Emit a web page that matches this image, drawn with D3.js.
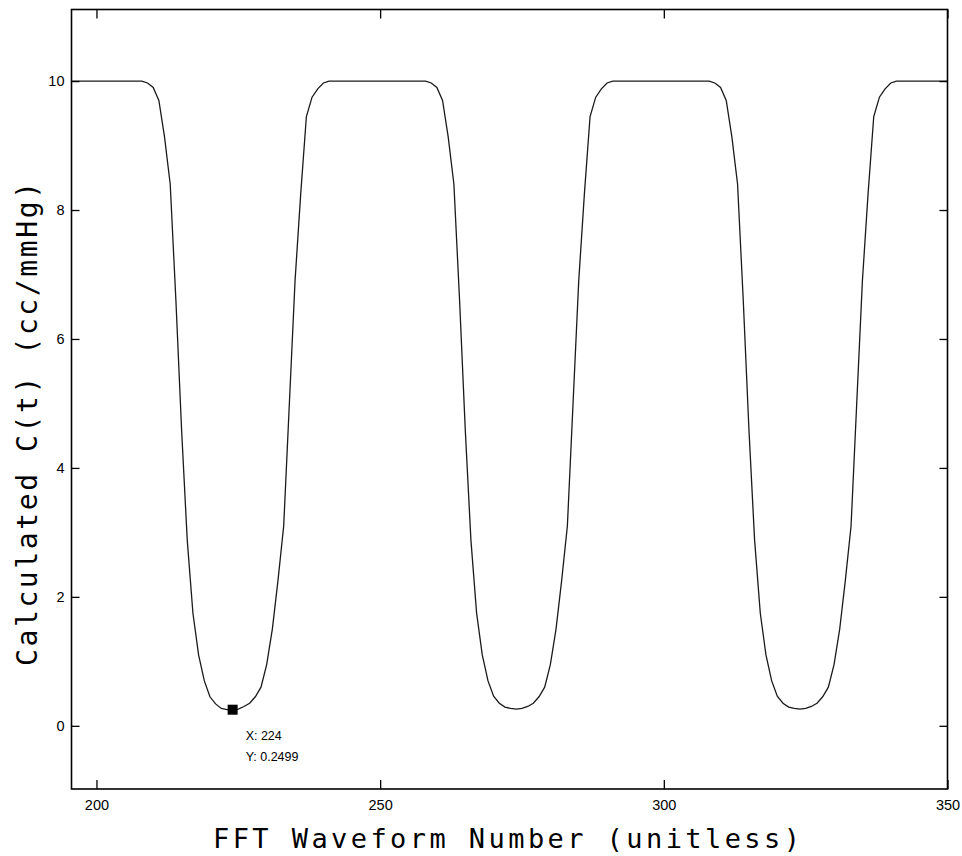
<!DOCTYPE html>
<html>
<head>
<meta charset="utf-8">
<script src="https://cdn.jsdelivr.net/npm/d3@7"></script>
<style>
  html, body { margin: 0; padding: 0; background: #fff; }
  svg { display: block; }
</style>
</head>
<body>
<svg id="chart" width="962" height="856"></svg>
<script>
// FFT waveform number (x) and calculated compliance C(t) in cc/mmHg (y)
const waveNumber = d3.range(195, 351);
const compliance = [
  // 195 - 208
  10, 10, 10, 10, 10, 10, 10, 10, 10, 10, 10, 10, 10, 10,
  // 209 - 240 (first trough)
  9.97, 9.9, 9.7, 9.13, 8.4, 6.6, 4.6, 2.88, 1.75, 1.1, 0.7, 0.45, 0.34, 0.27, 0.25, 0.2499,
  0.26, 0.3, 0.35, 0.45, 0.6, 0.95, 1.5, 2.26, 3.1, 5.0, 6.9, 8.25, 9.45, 9.75, 9.88, 9.97,
  // 241 - 258
  10, 10, 10, 10, 10, 10, 10, 10, 10, 10, 10, 10, 10, 10, 10, 10, 10, 10,
  // 259 - 290 (second trough)
  9.97, 9.9, 9.7, 9.13, 8.4, 6.6, 4.6, 2.88, 1.75, 1.1, 0.7, 0.46, 0.35, 0.29, 0.27, 0.26,
  0.27, 0.3, 0.35, 0.45, 0.6, 0.95, 1.5, 2.26, 3.1, 5.0, 6.9, 8.25, 9.45, 9.75, 9.88, 9.97,
  // 291 - 308
  10, 10, 10, 10, 10, 10, 10, 10, 10, 10, 10, 10, 10, 10, 10, 10, 10, 10,
  // 309 - 340 (third trough)
  9.97, 9.9, 9.7, 9.13, 8.4, 6.6, 4.6, 2.88, 1.75, 1.1, 0.7, 0.46, 0.35, 0.29, 0.27, 0.26,
  0.27, 0.3, 0.35, 0.45, 0.6, 0.95, 1.5, 2.26, 3.1, 5.0, 6.9, 8.25, 9.45, 9.75, 9.88, 9.97,
  // 341 - 350
  10, 10, 10, 10, 10, 10, 10, 10, 10, 10
];
const xTicks = [200, 250, 300, 350];
const yTicks = [0, 2, 4, 6, 8, 10];
const dataTip = { x: 224, y: 0.2499 };

const svg = d3.select('#chart');
const margin = { top: 9.5, right: 14.5, bottom: 67, left: 71.5 };
const width = 962 - margin.left - margin.right;
const height = 856 - margin.top - margin.bottom;

const x = d3.scaleLinear().domain([195.6, 350]).range([0, width]);
const y = d3.scaleLinear().domain([-0.98, 11.11]).range([height, 0]);

const g = svg.append('g').attr('transform', `translate(${margin.left},${margin.top})`);

g.append('clipPath').attr('id', 'clip')
  .append('rect').attr('width', width).attr('height', height);

// curve
const line = d3.line()
  .x((d, i) => x(waveNumber[i]))
  .y(d => y(d));

g.append('path')
  .datum(compliance)
  .attr('clip-path', 'url(#clip)')
  .attr('fill', 'none')
  .attr('stroke', '#1a1a1a')
  .attr('stroke-width', 1.3)
  .attr('d', line);

// axes: ticks point inward on all four sides
const tickFont = '"Liberation Sans", Arial, sans-serif';
const styleAxis = (sel) => {
  sel.select('.domain').remove();
  sel.selectAll('.tick line').attr('stroke', '#000').attr('stroke-width', 1.3);
  sel.selectAll('.tick text').attr('font-family', tickFont).attr('font-size', 14.5).attr('fill', '#000');
};

g.append('g')
  .attr('transform', `translate(0,${height})`)
  .call(d3.axisBottom(x).tickValues(xTicks).tickSizeInner(-9).tickPadding(11))
  .call(styleAxis);

g.append('g')
  .call(d3.axisTop(x).tickValues(xTicks).tickSizeInner(-9).tickFormat(''))
  .call(styleAxis);

g.append('g')
  .call(d3.axisLeft(y).tickValues(yTicks).tickSizeInner(-8).tickPadding(7))
  .call(styleAxis);

g.append('g')
  .attr('transform', `translate(${width},0)`)
  .call(d3.axisRight(y).tickValues(yTicks).tickSizeInner(-8).tickFormat(''))
  .call(styleAxis);

// frame
g.append('rect')
  .attr('width', width).attr('height', height)
  .attr('fill', 'none').attr('stroke', '#000').attr('stroke-width', 1.6);

// data tip marker
g.append('rect')
  .attr('x', x(dataTip.x) - 5).attr('y', y(dataTip.y) - 5)
  .attr('width', 10).attr('height', 10)
  .attr('fill', '#000');

const tip = g.append('text')
  .attr('font-family', tickFont).attr('font-size', 12.5).attr('fill', '#000');
tip.append('tspan')
  .attr('x', x(dataTip.x) + 13).attr('y', y(dataTip.y) + 30)
  .text(`X: ${dataTip.x}`);
tip.append('tspan')
  .attr('x', x(dataTip.x) + 13).attr('y', y(dataTip.y) + 51)
  .text(`Y: ${dataTip.y}`);

// axis titles
const titleFont = '"DejaVu Sans Mono", "Liberation Mono", monospace';
svg.append('text')
  .attr('x', 213).attr('y', 848)
  .attr('font-family', titleFont).attr('font-size', 27)
  .attr('textLength', 587).attr('lengthAdjust', 'spacing')
  .attr('fill', '#000')
  .text('FFT Waveform Number (unitless)');

svg.append('text')
  .attr('transform', 'translate(37,666) rotate(-90)')
  .attr('font-family', titleFont).attr('font-size', 28)
  .attr('textLength', 484).attr('lengthAdjust', 'spacing')
  .attr('fill', '#000')
  .text('Calculated C(t) (cc/mmHg)');
</script>
</body>
</html>
